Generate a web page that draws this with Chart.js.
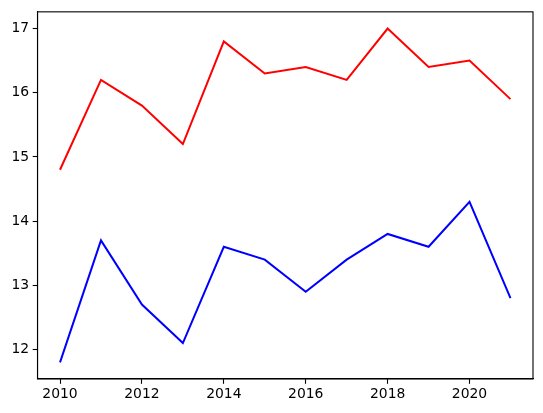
<!DOCTYPE html>
<html lang="en">
<head>
  <meta charset="UTF-8" />
  <title>Two series by year</title>
  <script src="https://cdn.jsdelivr.net/npm/chart.js"></script>
  <style>
    html, body { margin: 0; padding: 0; background: #fff; overflow: hidden; }
    canvas { display: block; }
  </style>
</head>
<body>
<canvas id="myChart" width="543" height="413"></canvas>
<script>
  const years = [2010, 2011, 2012, 2013, 2014, 2015, 2016, 2017, 2018, 2019, 2020, 2021];
  const redVals = [14.8, 16.2, 15.8, 15.2, 16.8, 16.3, 16.4, 16.2, 17.0, 16.4, 16.5, 15.9];
  const blueVals = [11.8, 13.7, 12.7, 12.1, 13.6, 13.4, 12.9, 13.4, 13.8, 13.6, 14.3, 12.8];
  const xTicks = [2010, 2012, 2014, 2016, 2018, 2020];
  const yTicks = [12, 13, 14, 15, 16, 17];

  // matplotlib-ish 5% margins
  const allY = redVals.concat(blueVals);
  const yLo = Math.min(...allY), yHi = Math.max(...allY);
  const yPad = (yHi - yLo) * 0.05;
  const xPad = (years[years.length - 1] - years[0]) * 0.05;

  const frame = {
    id: 'frame',
    afterDraw(chart) {
      const a = chart.chartArea, c = chart.ctx;
      c.save();
      c.strokeStyle = '#000';
      c.lineWidth = 1.1;
      c.strokeRect(a.left, a.top, a.right - a.left, a.bottom - a.top);
      c.restore();
    }
  };

  const tickFont = { family: 'DejaVu Sans', size: 13.9 };

  new Chart(document.getElementById('myChart'), {
    type: 'line',
    data: {
      datasets: [
        {
          data: years.map((x, i) => ({ x, y: redVals[i] })),
          borderColor: '#ff0000',
          borderWidth: 2,
          pointRadius: 0,
          tension: 0
        },
        {
          data: years.map((x, i) => ({ x, y: blueVals[i] })),
          borderColor: '#0000ff',
          borderWidth: 2,
          pointRadius: 0,
          tension: 0
        }
      ]
    },
    options: {
      responsive: false,
      animation: false,
      layout: { padding: { top: 10.5, right: 10, left: 0, bottom: 0 } },
      plugins: { legend: { display: false }, tooltip: { enabled: false } },
      scales: {
        x: {
          type: 'linear',
          min: years[0] - xPad,
          max: years[years.length - 1] + xPad,
          afterBuildTicks: s => { s.ticks = xTicks.map(v => ({ value: v })); },
          afterFit: s => { s.height = 34; },
          ticks: { color: '#000', font: tickFont, padding: 2, maxRotation: 0, callback: v => String(v) },
          grid: { drawOnChartArea: false, tickLength: 4.8, color: '#000', tickWidth: 1.1 },
          border: { color: '#000', width: 1.1 }
        },
        y: {
          type: 'linear',
          min: yLo - yPad,
          max: yHi + yPad,
          afterBuildTicks: s => { s.ticks = yTicks.map(v => ({ value: v })); },
          afterFit: s => { s.width = 37.5; },
          ticks: { color: '#000', font: tickFont, padding: 3.5, callback: v => String(v) },
          grid: { drawOnChartArea: false, tickLength: 4.8, color: '#000', tickWidth: 1.1 },
          border: { color: '#000', width: 1.1 }
        }
      }
    },
    plugins: [frame]
  });
</script>
</body>
</html>
